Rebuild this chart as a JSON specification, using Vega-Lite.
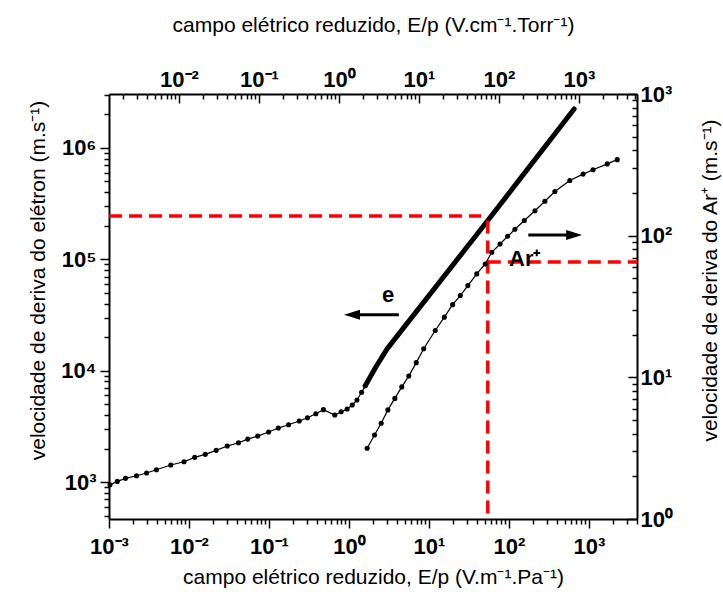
{
  "$schema": "https://vega.github.io/schema/vega-lite/v6.json",
  "width": 528,
  "height": 425,
  "autosize": "none",
  "padding": {"left": 109, "top": 94, "right": 86, "bottom": 77},
  "background": "white",
  "config": {
    "view": {"stroke": null},
    "font": "Liberation Sans",
    "axis": {
      "domainColor": "black", "domainWidth": 2,
      "tickColor": "black", "tickWidth": 1.5,
      "labelFont": "Liberation Sans", "labelFontSize": 22, "labelFontWeight": "bold", "labelColor": "black",
      "titleFont": "Liberation Sans", "titleFontSize": 21, "titleFontWeight": "normal", "titleColor": "black",
      "grid": false, "labelOverlap": false, "labelFlush": false, "labelBound": false
    }
  },
  "datasets": {
    "ePts": [
      {"x": 0.00103, "y": 946}, {"x": 0.00127, "y": 1014}, {"x": 0.00161, "y": 1080}, {"x": 0.00221, "y": 1140},
      {"x": 0.00295, "y": 1205}, {"x": 0.00392, "y": 1290}, {"x": 0.00592, "y": 1422}, {"x": 0.00866, "y": 1521},
      {"x": 0.0118, "y": 1667}, {"x": 0.016, "y": 1774}, {"x": 0.0219, "y": 1927}, {"x": 0.0301, "y": 2105},
      {"x": 0.0416, "y": 2253}, {"x": 0.0543, "y": 2432}, {"x": 0.0723, "y": 2588}, {"x": 0.0991, "y": 2812},
      {"x": 0.131, "y": 3054}, {"x": 0.176, "y": 3271}, {"x": 0.239, "y": 3534}, {"x": 0.303, "y": 3783},
      {"x": 0.386, "y": 4111}, {"x": 0.48, "y": 4467}, {"x": 0.665, "y": 4000}, {"x": 0.8, "y": 4280},
      {"x": 0.95, "y": 4530}, {"x": 1.1, "y": 4920}, {"x": 1.26, "y": 5450}, {"x": 1.44, "y": 6400},
      {"x": 1.6, "y": 7330}
    ],
    "eDense": [
      {"x": 1.6, "y": 7330}, {"x": 2.17, "y": 10800}, {"x": 3.0, "y": 15700}, {"x": 54.5, "y": 223000}, {"x": 655, "y": 2240000}
    ],
    "eRed": [
      {"x": 0.001, "y": 245000, "x2": 45, "y2": 245000},
      {"x": 54.5, "y": 223000, "x2": 54.5, "y2": 466}
    ],
    "eLabel": [{"x": 3.1, "y": 47900, "t": "e"}],
    "eArrow": [{"x": 1.226, "x2": 4.21, "y": 31800}],
    "eHead": [{"x": 1.093, "y": 31800}],
    "aPts": [
      {"x": 1.69, "y": 3.16}, {"x": 2.09, "y": 3.92}, {"x": 2.53, "y": 4.74}, {"x": 3.07, "y": 5.89},
      {"x": 3.75, "y": 7.1}, {"x": 4.58, "y": 8.56}, {"x": 5.6, "y": 10.2}, {"x": 6.95, "y": 12.7},
      {"x": 8.61, "y": 15.9}, {"x": 12.0, "y": 21.4}, {"x": 15.6, "y": 26.6}, {"x": 19.8, "y": 32.6},
      {"x": 24.7, "y": 37.8}, {"x": 30.7, "y": 44.4}, {"x": 39.7, "y": 53.7}, {"x": 50.6, "y": 63.1},
      {"x": 61.1, "y": 76.3}, {"x": 77.6, "y": 87.4}, {"x": 96.6, "y": 99}, {"x": 119, "y": 111},
      {"x": 156, "y": 128}, {"x": 212, "y": 150}, {"x": 282, "y": 175}, {"x": 376, "y": 205},
      {"x": 578, "y": 245}, {"x": 847, "y": 272}, {"x": 1128, "y": 292}, {"x": 1700, "y": 321},
      {"x": 2265, "y": 344}
    ],
    "aRed": [{"x": 54.5, "y": 65.2, "x2": 4000}],
    "aLabel": [{"x": 158, "y": 68.5, "t": "Ar⁺"}],
    "aArrow": [{"x": 175, "x2": 583, "y": 101}],
    "aHead": [{"x": 655, "y": 101}],
    "top": [{"x": 0.01}, {"x": 1000}]
  },
  "layer": [
    {
      "encoding": {
        "x": {
          "field": "x", "type": "quantitative",
          "scale": {"type": "log", "domain": [0.001, 4000], "nice": false},
          "axis": {
            "orient": "bottom",
            "title": "campo elétrico reduzido, E/p (V.m⁻¹.Pa⁻¹)",
            "labelExpr": "abs(log(datum.value)/LN10 - round(log(datum.value)/LN10)) < 0.0001 ? '10' + (round(log(datum.value)/LN10) < 0 ? '⁻' : '') + ['⁰','¹','²','³','⁴','⁵','⁶'][abs(round(log(datum.value)/LN10))] : ''",
            "tickSize": {"condition": {"test": "abs(log(datum.value)/LN10 - round(log(datum.value)/LN10)) < 0.0001", "value": 9}, "value": 5},
            "labelPadding": 8,
            "titlePadding": 9
          }
        },
        "y": {
          "field": "y", "type": "quantitative",
          "scale": {"type": "log", "domain": [466, 3050000], "nice": false},
          "axis": {
            "orient": "left",
            "title": "velocidade de deriva do elétron (m.s⁻¹)",
            "labelExpr": "abs(log(datum.value)/LN10 - round(log(datum.value)/LN10)) < 0.0001 ? '10' + (round(log(datum.value)/LN10) < 0 ? '⁻' : '') + ['⁰','¹','²','³','⁴','⁵','⁶'][abs(round(log(datum.value)/LN10))] : ''",
            "tickSize": {"condition": {"test": "abs(log(datum.value)/LN10 - round(log(datum.value)/LN10)) < 0.0001", "value": 9}, "value": 5},
            "labelPadding": 4,
            "titlePadding": 12,
            "titleY": 186
          }
        }
      },
      "layer": [
        {"data": {"name": "ePts"}, "mark": {"type": "line", "color": "black", "strokeWidth": 1.2}},
        {"data": {"name": "ePts"}, "mark": {"type": "point", "filled": true, "color": "black", "size": 26, "opacity": 1}},
        {"data": {"name": "eDense"}, "mark": {"type": "line", "color": "black", "strokeWidth": 5, "strokeCap": "round", "strokeJoin": "round"}},
        {"data": {"name": "eRed"}, "mark": {"type": "rule", "color": "#ff0000", "strokeWidth": 3.5, "strokeDash": [13, 7]},
          "encoding": {"x2": {"field": "x2"}, "y2": {"field": "y2"}}},
        {"data": {"name": "eArrow"}, "mark": {"type": "rule", "color": "black", "strokeWidth": 3},
          "encoding": {"x2": {"field": "x2"}}},
        {"data": {"name": "eHead"}, "mark": {"type": "point", "shape": "M -1 0 L 1 -0.62 L 1 0.62 Z", "size": 256, "filled": true, "color": "black", "opacity": 1}},
        {"data": {"name": "eLabel"}, "mark": {"type": "text", "font": "Liberation Sans", "fontSize": 22, "fontWeight": "bold", "color": "black", "align": "center", "baseline": "middle"},
          "encoding": {"text": {"field": "t"}}}
      ]
    },
    {
      "encoding": {
        "x": {
          "field": "x", "type": "quantitative",
          "scale": {"type": "log", "domain": [0.001, 4000], "nice": false},
          "axis": null
        },
        "y": {
          "field": "y", "type": "quantitative",
          "scale": {"type": "log", "domain": [1, 1000], "nice": false},
          "axis": {
            "orient": "right",
            "title": "velocidade de deriva do Ar⁺ (m.s⁻¹)",
            "titleAngle": -90,
            "labelExpr": "abs(log(datum.value)/LN10 - round(log(datum.value)/LN10)) < 0.0001 ? '10' + (round(log(datum.value)/LN10) < 0 ? '⁻' : '') + ['⁰','¹','²','³','⁴','⁵','⁶'][abs(round(log(datum.value)/LN10))] : ''",
            "tickSize": {"condition": {"test": "abs(log(datum.value)/LN10 - round(log(datum.value)/LN10)) < 0.0001", "value": -9}, "value": -5},
            "labelPadding": 12,
            "titlePadding": 48,
            "titleY": 186
          }
        }
      },
      "layer": [
        {"data": {"name": "aPts"}, "mark": {"type": "line", "color": "black", "strokeWidth": 1.2}},
        {"data": {"name": "aPts"}, "mark": {"type": "point", "filled": true, "color": "black", "size": 26, "opacity": 1}},
        {"data": {"name": "aRed"}, "mark": {"type": "rule", "color": "#ff0000", "strokeWidth": 3.5, "strokeDash": [13, 7]},
          "encoding": {"x2": {"field": "x2"}}},
        {"data": {"name": "aArrow"}, "mark": {"type": "rule", "color": "black", "strokeWidth": 3},
          "encoding": {"x2": {"field": "x2"}}},
        {"data": {"name": "aHead"}, "mark": {"type": "point", "shape": "M 1 0 L -1 -0.62 L -1 0.62 Z", "size": 256, "filled": true, "color": "black", "opacity": 1}},
        {"data": {"name": "aLabel"}, "mark": {"type": "text", "font": "Liberation Sans", "fontSize": 22, "fontWeight": "bold", "color": "black", "align": "center", "baseline": "middle"},
          "encoding": {"text": {"field": "t"}}}
      ]
    },
    {
      "data": {"name": "top"},
      "mark": {"type": "point", "opacity": 0},
      "encoding": {
        "x": {
          "field": "x", "type": "quantitative",
          "scale": {"type": "log", "domain": [0.0013332, 5333], "nice": false},
          "axis": {
            "orient": "top",
            "title": "campo elétrico reduzido, E/p (V.cm⁻¹.Torr⁻¹)",
            "labelExpr": "abs(log(datum.value)/LN10 - round(log(datum.value)/LN10)) < 0.0001 ? '10' + (round(log(datum.value)/LN10) < 0 ? '⁻' : '') + ['⁰','¹','²','³','⁴','⁵','⁶'][abs(round(log(datum.value)/LN10))] : ''",
            "tickSize": {"condition": {"test": "abs(log(datum.value)/LN10 - round(log(datum.value)/LN10)) < 0.0001", "value": -9}, "value": -5},
            "labelPadding": 12,
            "titlePadding": 29
          }
        }
      }
    }
  ],
  "resolve": {"scale": {"x": "independent", "y": "independent"}}
}
